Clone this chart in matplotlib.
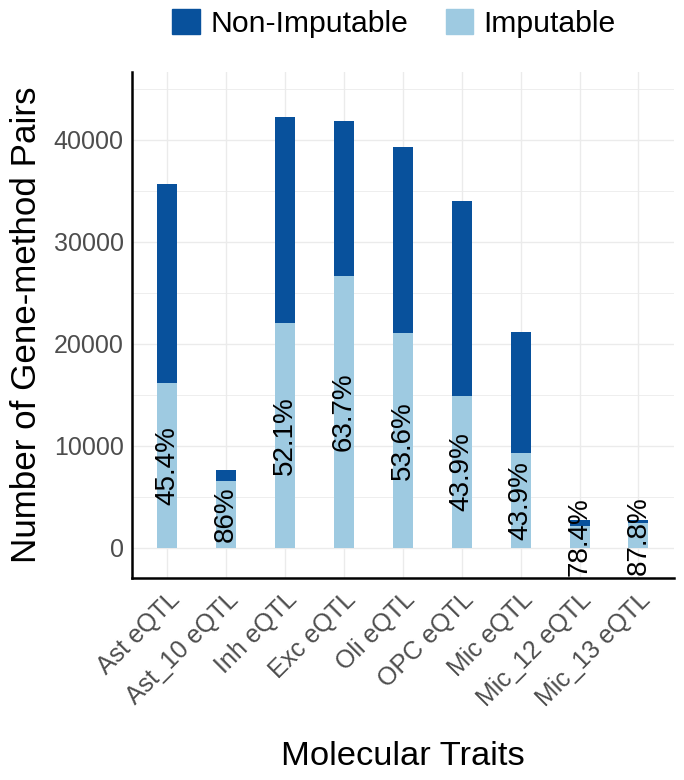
import matplotlib.pyplot as plt
from matplotlib.patches import Patch
import numpy as np

plt.rcParams['font.family'] = ['Liberation Sans', 'DejaVu Sans']

# Data
traits = ["Ast eQTL", "Ast_10 eQTL", "Inh eQTL", "Exc eQTL", "Oli eQTL",
          "OPC eQTL", "Mic eQTL", "Mic_12 eQTL", "Mic_13 eQTL"]
totals = [35690, 7650, 42250, 41860, 39310, 34020, 21180, 2745, 2745]
imputable = [16200, 6580, 22010, 26670, 21070, 14930, 9300, 2150, 2410]
pct_labels = ["45.4%", "86%", "52.1%", "63.7%", "53.6%", "43.9%", "43.9%", "78.4%", "87.8%"]

dark = "#08519C"
light = "#9ECAE1"

non_imputable = [t - i for t, i in zip(totals, imputable)]
x = np.arange(len(traits))

fig = plt.figure(figsize=(6.84, 7.80), dpi=100)
ax = fig.add_axes([0.193, 0.259, 0.792, 0.649])

# grid like ggplot theme_minimal
ax.set_axisbelow(True)
for yv in range(0, 46000, 5000):
    ax.axhline(yv, color="#EBEBEB", lw=1.0 if yv % 10000 == 0 else 0.6, zorder=0)
for xv in x:
    ax.axvline(xv, color="#EBEBEB", lw=1.0, zorder=0)

w = 0.34
ax.bar(x, imputable, width=w, color=light, zorder=2)
ax.bar(x, non_imputable, bottom=imputable, width=w, color=dark, zorder=2)

for xi, imp, lab in zip(x, imputable, pct_labels):
    ax.text(xi, imp / 2, lab, rotation=90, ha="center", va="center",
            fontsize=20, color="black", zorder=3)

ax.set_xlim(-0.6, len(traits) - 0.4)
ax.set_ylim(-2940, 46660)
ax.set_yticks([0, 10000, 20000, 30000, 40000])
ax.set_yticklabels(["0", "10000", "20000", "30000", "40000"])
ax.set_xticks(x)
ax.set_xticklabels(traits, rotation=45, ha="right", rotation_mode="anchor")
ax.tick_params(axis="both", length=0, labelsize=18, labelcolor="#4D4D4D")
ax.tick_params(axis="x", pad=7)
ax.tick_params(axis="y", pad=6)

for s in ["top", "right"]:
    ax.spines[s].set_visible(False)
for s in ["left", "bottom"]:
    ax.spines[s].set_linewidth(1.8)
    ax.spines[s].set_color("black")

ax.set_xlabel("Molecular Traits", fontsize=24.8, labelpad=22)
ax.set_ylabel("Number of Gene-method Pairs", fontsize=25.2, labelpad=8)

handles = [Patch(color=dark, label="Non-Imputable"), Patch(color=light, label="Imputable")]
fig.legend(handles=handles, loc="upper center", bbox_to_anchor=(0.576, 1.016), ncol=2,
           frameon=False, fontsize=21.7, handlelength=0.9, handleheight=0.9,
           handletextpad=0.35, columnspacing=1.25, borderaxespad=0.3)

fig.savefig("out.png", dpi=100)
